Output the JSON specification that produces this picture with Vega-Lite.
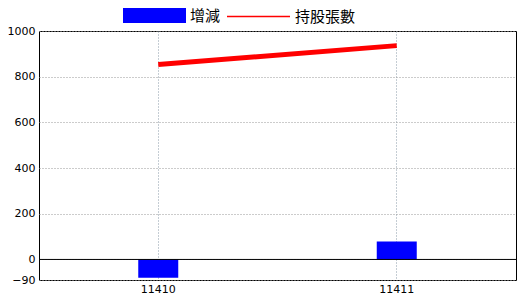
{
  "$schema": "https://vega.github.io/schema/vega-lite/v6.json",
  "width": 477,
  "height": 249,
  "autosize": {"type": "none"},
  "padding": {"left": 39, "top": 31, "right": 4, "bottom": 20},
  "background": "white",
  "config": {
    "view": {"stroke": "black", "strokeWidth": 1},
    "font": "DejaVu Sans",
    "axis": {"labelFont": "DejaVu Sans", "labelFontSize": 11, "labelColor": "black", "domain": false, "ticks": false,
      "gridColor": "#8a9aa8", "gridDash": [1, 2], "gridWidth": 1}
  },
  "data": {"values": [
    {"month": "11410", "change": -80, "shares": 853, "s1": "增減", "s2": "持股張數"},
    {"month": "11411", "change": 78, "shares": 936, "s1": "增減", "s2": "持股張數"}
  ]},
  "encoding": {
    "x": {"field": "month", "type": "nominal", "title": null,
      "scale": {"paddingInner": 0, "paddingOuter": 0},
      "axis": {"labelAngle": 0, "grid": true, "labelPadding": 3}}
  },
  "layer": [
    {
      "mark": {"type": "bar", "width": 40},
      "encoding": {
        "y": {"field": "change", "type": "quantitative", "title": null,
          "scale": {"domain": [-90, 1000], "nice": false, "zero": false},
          "axis": {"values": [-90, 0, 200, 400, 600, 800, 1000], "format": "d", "grid": true, "gridColor": "#999999", "labelPadding": 4}},
        "fill": {"field": "s1", "type": "nominal", "scale": {"range": ["#0000ff"]},
          "legend": {"title": null, "orient": "none", "legendX": 84, "legendY": -47,
            "symbolType": "M-1,-0.24H1V0.24H-1Z", "symbolSize": 3969, "symbolStrokeWidth": 0,
            "labelFontSize": 15, "labelFont": "Noto Sans CJK TC", "labelColor": "black", "symbolOpacity": 1}}
      }
    },
    {
      "mark": {"type": "rule", "color": "black", "strokeWidth": 1},
      "data": {"values": [{"z": 0}]},
      "encoding": {"y": {"field": "z", "type": "quantitative"}, "x": null}
    },
    {
      "mark": {"type": "line", "strokeWidth": 5},
      "encoding": {
        "y": {"field": "shares", "type": "quantitative"},
        "stroke": {"field": "s2", "type": "nominal", "scale": {"range": ["#ff0000"]},
          "legend": {"title": null, "orient": "none", "legendX": 187, "legendY": -47,
            "symbolType": "stroke", "symbolSize": 3969, "symbolStrokeWidth": 1.5,
            "labelFontSize": 15, "labelFont": "Noto Sans CJK TC", "labelColor": "black"}}
      }
    }
  ]
}
